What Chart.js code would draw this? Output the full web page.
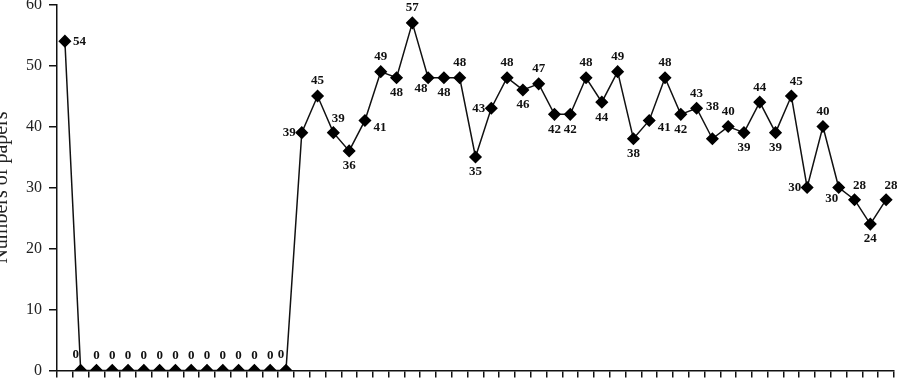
<!DOCTYPE html>
<html>
<head>
<meta charset="UTF-8">
<title>Numbers of papers</title>
<script src="https://cdn.jsdelivr.net/npm/chart.js"></script>
<style>
  html, body { margin: 0; padding: 0; background: #fff; overflow: hidden; }
  #frame { position: relative; width: 897px; height: 378px; overflow: hidden; }
  #wrap { position: absolute; left: 0; top: -12px; width: 901px; height: 399px; }
</style>
</head>
<body>
<div id="frame"><div id="wrap"><canvas id="papersChart"></canvas></div></div>
<script>
  // one entry per period
  let periods = [];
  for (let i = 1; i <= 53; i++) periods.push(String(i));

  let papers = [54, 0, 0, 0, 0, 0, 0, 0, 0, 0, 0, 0, 0, 0, 0,
    39, 45, 39, 36, 41, 49, 48, 57, 48, 48, 48, 35, 43, 48, 46, 47, 42, 42,
    48, 44, 49, 38, 41, 48, 42, 43, 38, 40, 39, 44, 39, 45, 30, 40, 30, 28, 24, 28];

  // where each value label sits relative to its marker
  let labelSide = ['r', 'tl', 't', 't', 't', 't', 't', 't', 't', 't', 't', 't', 't', 't', 'tl',
    'l', 't', 'tr', 'b', 'br', 't', 'b', 't', 'bl', 'b', 't', 'b', 'l', 't', 'b', 't', 'b', 'b',
    't', 'b', 't', 'b', 'br', 't', 'b', 't', 'tt', 't', 'b', 't', 'b', 'tr', 'l', 't', 'bl', 'tr', 'b', 'tr'];

  const serif = "'Liberation Serif', 'DejaVu Serif', serif";

  const pointLabels = {
    id: 'pointLabels',
    afterDatasetsDraw(chart) {
      let c = chart.ctx;
      let pts = chart.getDatasetMeta(0).data;
      c.save();
      c.font = 'bold 13px ' + serif;
      c.fillStyle = '#111';
      pts.forEach((p, i) => {
        let side = labelSide[i];
        let dx = 0, dy = 0, align = 'center';
        if (side === 't') dy = -15;
        if (side === 'tt') dy = -32;
        if (side === 'b') dy = 15;
        if (side === 'l') { dx = -6; align = 'right'; }
        if (side === 'r') { dx = 8; align = 'left'; }
        if (side === 'tl') { dx = -5; dy = -16; }
        if (side === 'tr') { dx = 5; dy = -14; }
        if (side === 'bl') { dx = -7; dy = 11; }
        if (side === 'br') { dx = 15; dy = 7; }
        c.textAlign = align;
        c.textBaseline = 'middle';
        c.fillText(String(papers[i]), p.x + dx, p.y + dy);
      });
      c.restore();
    }
  };

  let ctx = document.getElementById('papersChart').getContext('2d');
  let papersChart = new Chart(ctx, {
    type: 'line',
    data: {
      labels: periods,
      datasets: [{
        label: 'Numbers of papers',
        data: papers,
        borderColor: '#111',
        borderWidth: 1.5,
        pointStyle: 'rectRot',
        pointRadius: 5.5,
        pointBackgroundColor: '#000',
        pointBorderColor: '#000',
        tension: 0,
        fill: false
      }]
    },
    options: {
      responsive: true,
      maintainAspectRatio: false,
      animation: false,
      layout: { padding: { left: -10, top: 0, right: 0, bottom: 0 } },
      plugins: {
        legend: { display: false },
        tooltip: { enabled: false }
      },
      scales: {
        x: {
          offset: true,
          grid: { display: true, drawOnChartArea: false, offset: true, tickLength: 7, color: '#111', lineWidth: 1.5 },
          border: { color: '#111', width: 1.5 },
          ticks: { display: false, autoSkip: false }
        },
        y: {
          min: 0,
          max: 60,
          grid: { drawOnChartArea: false, tickLength: 8, color: '#111', lineWidth: 1.5 },
          border: { color: '#111', width: 1.5 },
          ticks: { stepSize: 10, color: '#222', padding: 7, font: { family: serif, size: 16 } },
          title: { display: true, text: 'Numbers of papers', color: '#222', padding: { top: 0, bottom: 5 }, font: { family: serif, size: 20 } }
        }
      }
    },
    plugins: [pointLabels]
  });
</script>
</body>
</html>
